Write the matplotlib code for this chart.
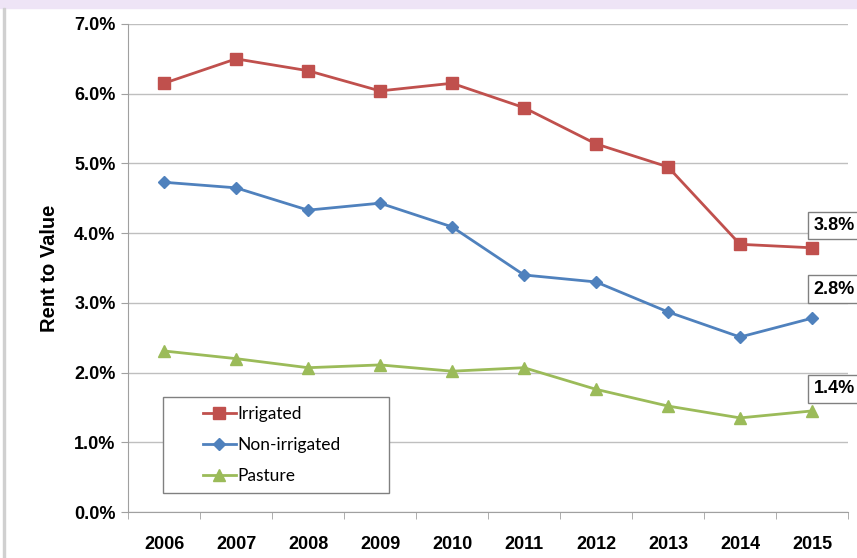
import matplotlib.pyplot as plt
from matplotlib.patches import Rectangle
from matplotlib.ticker import FuncFormatter, MultipleLocator
from matplotlib.legend_handler import HandlerLine2D

years = ['2006', '2007', '2008', '2009', '2010', '2011', '2012', '2013', '2014', '2015']
irrigated = [6.15, 6.50, 6.33, 6.04, 6.15, 5.80, 5.28, 4.95, 3.84, 3.79]
non_irrigated = [4.73, 4.65, 4.33, 4.43, 4.09, 3.40, 3.30, 2.87, 2.51, 2.78]
pasture = [2.31, 2.20, 2.07, 2.11, 2.02, 2.07, 1.76, 1.52, 1.35, 1.45]
end_labels = ['3.8%', '2.8%', '1.4%']

red = '#C0504D'
blue = '#4F81BD'
green = '#9BBB59'

plt.rcParams['font.family'] = ['Liberation Sans', 'DejaVu Sans']

fig = plt.figure(figsize=(8.57, 5.58), dpi=100)
fig.patches.append(Rectangle((0, 0.985), 1, 0.015, transform=fig.transFigure,
                             color='#EEE4F6', zorder=0))
fig.patches.append(Rectangle((0.004, 0), 0.0015, 0.985, transform=fig.transFigure,
                             color='#D0D0D0', zorder=0))
ax = fig.add_axes([0.1494, 0.0824, 0.8401, 0.8746])

x = list(range(len(years)))
l1, = ax.plot(x, irrigated, '-s', color=red, lw=2, ms=9, label='Irrigated', clip_on=False, zorder=3)
l2, = ax.plot(x, non_irrigated, '-D', color=blue, lw=2, ms=6.5, label='Non-irrigated', clip_on=False, zorder=3)
l3, = ax.plot(x, pasture, '-^', color=green, lw=2, ms=9, label='Pasture', clip_on=False, zorder=3)

ax.set_xlim(-0.5, len(years) - 0.5)
ax.set_ylim(0, 7)
ax.yaxis.set_major_locator(MultipleLocator(1))
ax.yaxis.set_major_formatter(FuncFormatter(lambda v, p: f'{v:.1f}%'))
ax.grid(axis='y', color='#BFBFBF', lw=1)
ax.set_axisbelow(True)

ax.set_xticks(x)
ax.set_xticklabels(years)
ax.set_xticks([i - 0.5 for i in range(len(years) + 1)], minor=True)
ax.tick_params(axis='x', which='major', length=0, pad=17, labelsize=13)
ax.tick_params(axis='x', which='minor', length=5, color='#A0A0A0')
ax.tick_params(axis='y', length=5, color='#A0A0A0', labelsize=13, pad=4)
for lab in ax.get_xticklabels() + ax.get_yticklabels():
    lab.set_fontweight('bold')

for s in ['top', 'right']:
    ax.spines[s].set_visible(False)
ax.spines['left'].set_color('#A0A0A0')
ax.spines['bottom'].set_color('#A0A0A0')

ax.set_ylabel('Rent to Value', fontsize=14.5, fontweight='bold', labelpad=11)

offsets = [16, 21, 16]
for series, txt, off in zip([irrigated, non_irrigated, pasture], end_labels, offsets):
    ax.annotate(txt, (x[-1], series[-1]), xytext=(1, off), textcoords='offset points',
                ha='left', va='center', fontsize=13, fontweight='bold',
                annotation_clip=False,
                bbox=dict(boxstyle='square,pad=0.3', fc='white', ec='#808080', lw=1))

# handles sit indented from the box edge, as in the reference
hmap = {l: HandlerLine2D(xpad=1.75) for l in (l1, l2, l3)}
leg = ax.legend(handler_map=hmap, loc='lower left', bbox_to_anchor=(0.048, 0.038, 0.315, 0.2),
                mode='expand', fancybox=False, edgecolor='#808080', framealpha=1,
                borderpad=0.55, handlelength=3.65, handletextpad=0.1, labelspacing=0.85,
                borderaxespad=0, prop={'family': ['Lato', 'DejaVu Sans'], 'size': 12.5})
leg.get_frame().set_linewidth(1)

fig.savefig('out.png', dpi=100)
